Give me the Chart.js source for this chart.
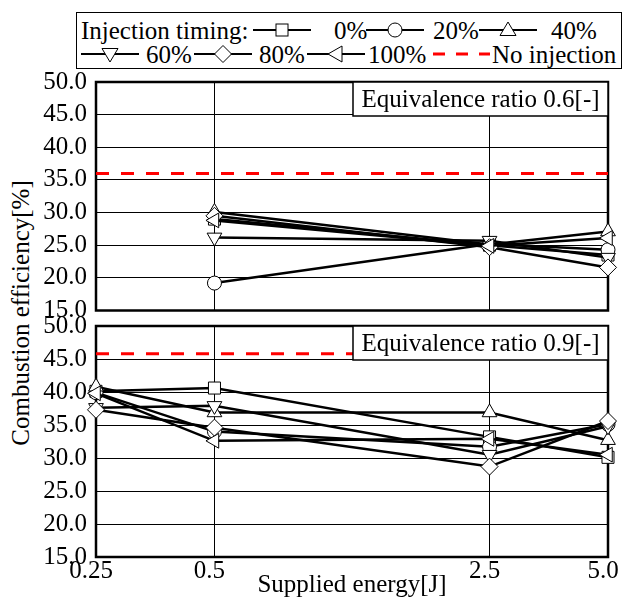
<!DOCTYPE html>
<html>
<head>
<meta charset="utf-8">
<script src="https://cdn.jsdelivr.net/npm/chart.js@4.4.1/dist/chart.umd.min.js"></script>
<style>
  html, body { margin: 0; padding: 0; background: #fff; }
  body { width: 622px; height: 597px; position: relative; overflow: hidden;
         font-family: "Liberation Serif", "Times New Roman", serif; color: #000; }
  #legendBox { position: absolute; left: 76px; top: 12px; width: 546px; height: 57px;
               border: 1.5px solid #000; box-sizing: border-box; }
  .lt { position: absolute; font-size: 25px; line-height: 25px; white-space: nowrap; }
  .li { position: absolute; }
  canvas { position: absolute; left: 0; }
  #yTitle { position: absolute; left: 20px; top: 313px; font-size: 25px; line-height: 25px;
            white-space: nowrap; transform: translate(-50%, -50%) rotate(-90deg); }
</style>
</head>
<body>
<div id="legendBox"></div>
<div id="legendItems"></div>
<div id="yTitle"></div>
<canvas id="cTop" width="640" height="272" style="top:60px"></canvas>
<canvas id="cBot" width="640" height="297" style="top:300px"></canvas>
<script>
// ---------------- data ----------------
const seriesNames = ['0%', '20%', '40%', '60%', '80%', '100%'];
const legendTitle = 'Injection timing:';
const refName = 'No injection';
const xTitle = 'Supplied energy[J]';
const yTitle = 'Combustion efficiency[%]';
const panelLabels = ['Equivalence ratio 0.6[-]', 'Equivalence ratio 0.9[-]'];

const xTickValues = [0.25, 0.5, 2.5, 5.0];
const xTickLabels = ['0.25', '0.5', '2.5', '5.0'];
const xRange = [0.25, 5.0];

// top panel (equivalence ratio 0.6)
const xTop = [0.5, 2.5, 5.0];
const top0   = [29.0, 25.0, 23.5];
const top20  = [19.2, 25.2, 24.3];
const top40  = [30.1, 25.1, 27.1];
const top60  = [26.2, 25.7, 23.1];
const top80  = [29.5, 24.7, 21.6];
const top100 = [28.8, 24.9, 26.1];
const noInjTop = 36.0;

// bottom panel (equivalence ratio 0.9)
const xBot = [0.25, 0.5, 2.5, 5.0];
const bot0   = [40.1, 40.6, 33.2, 30.1];
const bot20  = [39.9, 34.0, 31.7, 35.1];
const bot40  = [40.8, 36.9, 36.9, 32.7];
const bot60  = [37.6, 37.9, 30.5, 34.8];
const bot80  = [37.3, 34.6, 28.7, 35.6];
const bot100 = [39.8, 32.6, 32.9, 30.5];
const noInjBot = 45.8;

const yMin = 15, yMax = 50, yStep = 5;

// ---------------- styles ----------------
const FONT = '"Liberation Serif", "Times New Roman", serif';
const markerStyles = [
  { pointStyle: 'rect', rotation: 0, radius: 8.5 },
  { pointStyle: 'circle', rotation: 0, radius: 7 },
  { pointStyle: 'triangle', rotation: 0, radius: 8.5 },
  { pointStyle: 'triangle', rotation: 180, radius: 8.5 },
  { pointStyle: 'rectRot', rotation: 0, radius: 8.5 },
  { pointStyle: 'triangle', rotation: 270, radius: 8.5 }
];

// ---------------- legend (HTML) ----------------
const iconShapes = [
  '<rect x="23" y="4" width="12" height="12" fill="#fff" stroke="#000" stroke-width="1"/>',
  '<circle cx="29" cy="10" r="7" fill="#fff" stroke="#000" stroke-width="1"/>',
  '<polygon points="29,2 37,15.5 21,15.5" fill="#fff" stroke="#000" stroke-width="1"/>',
  '<polygon points="21,4.5 37,4.5 29,18" fill="#fff" stroke="#000" stroke-width="1"/>',
  '<polygon points="29,1.5 37.5,10 29,18.5 20.5,10" fill="#fff" stroke="#000" stroke-width="1"/>',
  '<polygon points="21,10 35,2 35,18" fill="#fff" stroke="#000" stroke-width="1"/>'
];
function icon(i, w) {
  return '<svg width="' + w + '" height="20" viewBox="0 0 ' + w + ' 20">' +
    '<line x1="0" y1="10" x2="' + w + '" y2="10" stroke="#000" stroke-width="2"/>' +
    iconShapes[i] + '</svg>';
}
function redIcon(w) {
  return '<svg width="' + w + '" height="20"><line x1="0" y1="10" x2="' + w +
    '" y2="10" stroke="#ff0000" stroke-width="3" stroke-dasharray="12 11"/></svg>';
}
const legendLayout = [
  { t: legendTitle, x: 81, row: 0 },
  { i: 0, x: 253, w: 58, row: 0 }, { t: seriesNames[0], x: 334, row: 0 },
  { i: 1, x: 366, w: 58, row: 0 }, { t: seriesNames[1], x: 433, row: 0 },
  { i: 2, x: 479, w: 58, row: 0 }, { t: seriesNames[2], x: 551, row: 0 },
  { i: 3, x: 81, w: 58, row: 1 }, { t: seriesNames[3], x: 146, row: 1 },
  { i: 4, x: 194, w: 58, row: 1 }, { t: seriesNames[4], x: 259, row: 1 },
  { i: 5, x: 307, w: 58, row: 1 }, { t: seriesNames[5], x: 368, row: 1 },
  { r: true, x: 433, w: 57, row: 1 }, { t: refName, x: 492, row: 1 }
];
const rowCenters = [30, 54];
let html = '';
legendLayout.forEach(it => {
  const cy = rowCenters[it.row];
  if (it.t !== undefined) {
    html += '<div class="lt" style="left:' + it.x + 'px;top:' + (cy - 12.5) + 'px">' + it.t + '</div>';
  } else if (it.r) {
    html += '<div class="li" style="left:' + it.x + 'px;top:' + (cy - 10) + 'px">' + redIcon(it.w) + '</div>';
  } else {
    html += '<div class="li" style="left:' + it.x + 'px;top:' + (cy - 10) + 'px">' + icon(it.i, it.w) + '</div>';
  }
});
document.getElementById('legendItems').innerHTML = html;
document.getElementById('yTitle').textContent = yTitle;

// ---------------- charts ----------------
function toPts(xs, ys) { return xs.map((x, k) => ({ x: x, y: ys[k] })); }

function buildDatasets(xs, series, refVal) {
  const ds = series.map((vals, i) => ({
    label: seriesNames[i],
    data: toPts(xs, vals),
    order: 10 - i,               // later series drawn on top
    borderColor: '#000',
    borderWidth: 2.5,
    backgroundColor: '#fff',
    pointBackgroundColor: '#fff',
    pointBorderColor: '#000',
    pointBorderWidth: 1,
    pointStyle: markerStyles[i].pointStyle,
    pointRotation: markerStyles[i].rotation,
    pointRadius: markerStyles[i].radius,
    pointHoverRadius: markerStyles[i].radius,
    tension: 0,
    clip: false,
    fill: false
  }));
  ds.push({
    label: refName,
    data: toPts(xRange, [refVal, refVal]),
    borderColor: '#ff0000',
    borderWidth: 3,
    borderDash: [13, 12],
    pointRadius: 0,
    fill: false,
    clip: false,
    order: 20
  });
  return ds;
}

const panelPlugin = {
  id: 'panelDeco',
  beforeDatasetsDraw(chart) {
    const { ctx, chartArea: a } = chart;
    ctx.save();
    ctx.strokeStyle = '#000';
    ctx.lineWidth = 2.5;
    ctx.strokeRect(a.left, a.top, a.right - a.left, a.bottom - a.top);
    ctx.restore();
  },
  afterDatasetsDraw(chart, args, opts) {
    const { ctx, chartArea: a } = chart;
    const bx = 353, bh = 34;
    ctx.save();
    ctx.fillStyle = '#fff';
    ctx.fillRect(bx, a.top, a.right - bx, bh);
    ctx.strokeStyle = '#000';
    ctx.lineWidth = 1.5;
    ctx.strokeRect(bx, a.top, a.right - bx, bh);
    ctx.fillStyle = '#000';
    ctx.font = '25px ' + FONT;
    ctx.textAlign = 'center';
    ctx.textBaseline = 'middle';
    ctx.fillText(opts.text, (bx + a.right) / 2, a.top + bh / 2 + 1);
    ctx.restore();
  }
};

function makeChart(id, xs, series, refVal, label, isBottom, pad) {
  return new Chart(document.getElementById(id), {
    type: 'line',
    data: { datasets: buildDatasets(xs, series, refVal) },
    plugins: [panelPlugin],
    options: {
      responsive: false,
      animation: false,
      events: [],
      layout: { padding: pad },
      plugins: {
        legend: { display: false },
        tooltip: { enabled: false },
        panelDeco: { text: label }
      },
      scales: {
        x: {
          type: 'logarithmic',
          min: xRange[0],
          max: xRange[1],
          afterBuildTicks: s => { s.ticks = xTickValues.map(v => ({ value: v })); },
          afterFit: s => { s.height = isBottom ? 40 : 0; },
          ticks: {
            display: isBottom,
            autoSkip: false,
            maxRotation: 0,
            padding: 2,
            labelOffset: -5,
            color: '#000',
            font: { family: FONT, size: 25, lineHeight: 1 },
            callback: (v, i) => xTickLabels[i]
          },
          grid: { color: '#000', lineWidth: 1, drawTicks: false },
          border: { display: false },
          title: {
            display: isBottom,
            text: xTitle,
            color: '#000',
            font: { family: FONT, size: 25, lineHeight: 1 },
            padding: { top: 0, bottom: -1 }
          }
        },
        y: {
          min: yMin,
          max: yMax,
          afterFit: s => { s.width = 96; },
          ticks: {
            stepSize: yStep,
            padding: 9,
            color: '#000',
            font: { family: FONT, size: 25, lineHeight: 1 },
            callback: v => Number(v).toFixed(1)
          },
          grid: { color: '#000', lineWidth: 1, drawTicks: false },
          border: { display: false }
        }
      }
    }
  });
}

makeChart('cTop', xTop, [top0, top20, top40, top60, top80, top100], noInjTop,
  panelLabels[0], false, { top: 22, right: 32, bottom: 20, left: 0 });
makeChart('cBot', xBot, [bot0, bot20, bot40, bot60, bot80, bot100], noInjBot,
  panelLabels[1], true, { top: 26, right: 32, bottom: 0, left: 0 });
</script>
</body>
</html>
